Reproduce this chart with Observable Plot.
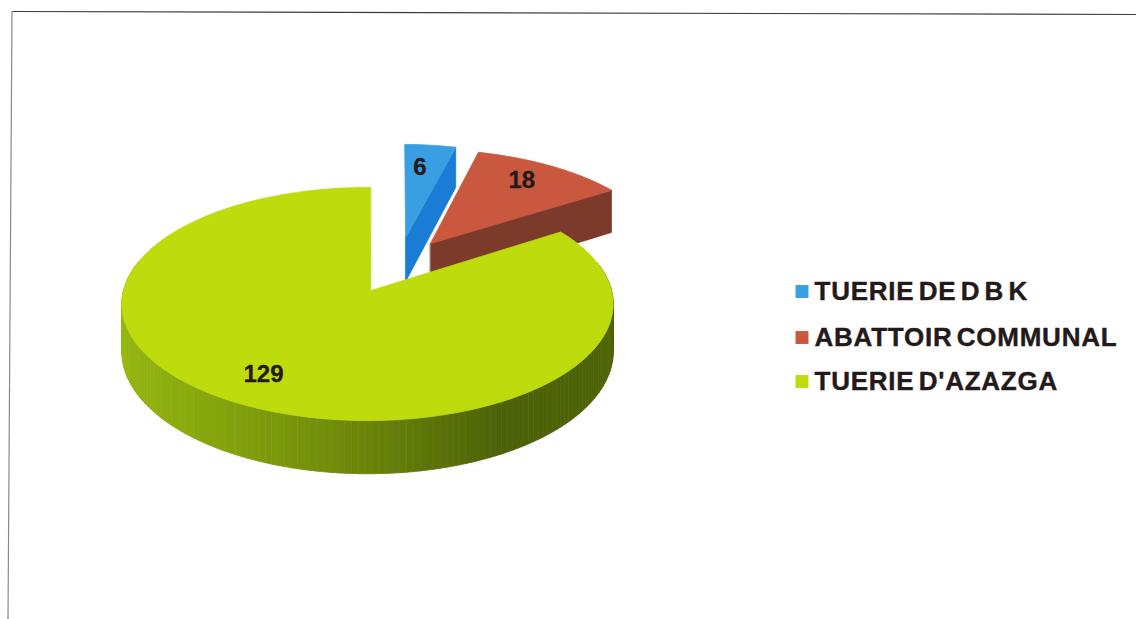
<!DOCTYPE html>
<html>
<head>
<meta charset="utf-8">
<script src="https://cdn.jsdelivr.net/npm/d3@7"></script>
<script src="https://cdn.jsdelivr.net/npm/@observablehq/plot@0.6"></script>
<style>
html,body{margin:0;padding:0;background:#fff;overflow:hidden}
.lg text{letter-spacing:.75px;word-spacing:-3.6px}
</style>
</head>
<body>
<div id="chart"></div>
<script>
const categories = ["TUERIE DE D B K", "ABATTOIR COMMUNAL", "TUERIE D'AZAZGA"];
const values = [6, 18, 129];
const topColors = ["#3a9fe2", "#c9583f", "#bedb0e"];
const sideColors = ["#1a7cd4", "#7c3b2a", "#7d9a08"];

// Perspective projection of the pie's ground plane
const W = 1136, H = 619;
const cx = 367, cy = 290, A = 244, B = 115, p = 0.116, depth = 47;
const explode = [[0.165, 0.49], [0.271, 0.43], [0, 0]];
const apexShift = [0, 0, 0.014];
const turn = 0.8 * Math.PI / 180;
function project(X, Y, z = 0) {
  const s = 1 / (1 + p * Y);
  return {x: cx + A * X * s, y: cy - B * Y * s + z * depth * s};
}

const total = d3.sum(values);
let acc = 0;
const slices = values.map((v, i) => {
  const a0 = acc / total * 2 * Math.PI + turn;
  acc += v;
  const a1 = acc / total * 2 * Math.PI + turn;
  return {i, a0, a1, dx: explode[i][0], dy: explode[i][1]};
});
const rim = (s, a) => [s.dx + Math.sin(a), s.dy + Math.cos(a)];
const arcAngles = (s) => d3.range(0, 1.0001, 1 / Math.max(4, Math.ceil((s.a1 - s.a0) * 40))).map(t => s.a0 + (s.a1 - s.a0) * t);

const polys = [];
let pid = 0;
function addPoly(pts, fill) {
  const id = pid++;
  pts.forEach((q, k) => polys.push({id, k, x: q.x, y: q.y, fill}));
}
const greenSide = d3.scaleLinear()
  .domain([-1, -0.55, 0, 0.5, 1])
  .range(["#95b812", "#86a40c", "#6b840a", "#4c6108", "#4e6406"]);

slices.forEach(s => {
  const ax = s.dx + apexShift[s.i];
  const apexTop = project(ax, s.dy, 0), apexBot = project(ax, s.dy, 1);
  const [ex, ey] = rim(s, s.a1);
  // cut wall on the closing radius
  if (s.i < 2) {
    addPoly([apexTop, project(ex, ey, 0), project(ex, ey, 1), apexBot], sideColors[s.i]);
  }
  // outer wall: narrow quads so the shade can follow the rim
  const ang = arcAngles(s);
  for (let j = 0; j < ang.length - 1; j++) {
    const [x0, y0] = rim(s, ang[j]), [x1, y1] = rim(s, ang[j + 1]);
    if (Math.cos((ang[j] + ang[j + 1]) / 2) > 0.25) continue;
    const fill = s.i === 2 ? greenSide(Math.sin((ang[j] + ang[j + 1]) / 2)) : sideColors[s.i];
    addPoly([project(x0, y0, 0), project(x1, y1, 0), project(x1, y1, 1), project(x0, y0, 1)], fill);
  }
  // top face
  addPoly([apexTop, ...ang.map(a => { const [x, y] = rim(s, a); return project(x, y, 0); })], topColors[s.i]);
});

const labels = [
  {t: String(values[0]), ...project(explode[0][0] + 0.08, explode[0][1] + 0.73)},
  {t: String(values[1]), ...project(explode[1][0] + 0.44, explode[1][1] + 0.646)},
  {t: String(values[2]), x: 263, y: 374}
];
const legendRows = categories.map((c, i) => ({c, i, color: topColors[i], y: [291, 337, 381][i]}));

// The scanned page's frame runs slightly off square
const frame = [
  {x1: 11.5, y1: 11, x2: W, y2: 14, stroke: "#3c3c3c"},
  {x1: 11.5, y1: 11, x2: 7.5, y2: H, stroke: "#8a8a8a"}
];

const font = "'Liberation Sans', Arial, sans-serif";
const chart = Plot.plot({
  width: W, height: H, margin: 0,
  style: {background: "#fff", fontFamily: font},
  x: {domain: [0, W], range: [0, W], axis: null},
  y: {domain: [0, H], range: [0, H], axis: null},
  color: {type: "identity"},
  marks: [
    Plot.link(frame, {x1: "x1", y1: "y1", x2: "x2", y2: "y2", stroke: "stroke", strokeWidth: 1.2}),
    Plot.line(polys, {x: "x", y: "y", z: "id", fill: "fill", stroke: "fill", strokeWidth: 0.8, curve: "linear-closed", sort: null}),
    Plot.text(labels, {x: "x", y: "y", text: "t", fontSize: 24, fontWeight: 700, fill: "#241a1a", stroke: "#241a1a", strokeWidth: 0.3, lineAnchor: "middle"}),
    Plot.dot(legendRows, {x: 801.5, y: "y", symbol: "square", r: 7.3, fill: "color", stroke: null}),
    Plot.text(legendRows, {x: 814, y: "y", text: "c", textAnchor: "start", fontSize: 26, fontWeight: 700, fill: "#241a1a", stroke: "#241a1a", strokeWidth: 0.4, lineAnchor: "middle", className: "lg"})
  ]
});
document.getElementById("chart").appendChild(chart);
</script>
</body>
</html>
